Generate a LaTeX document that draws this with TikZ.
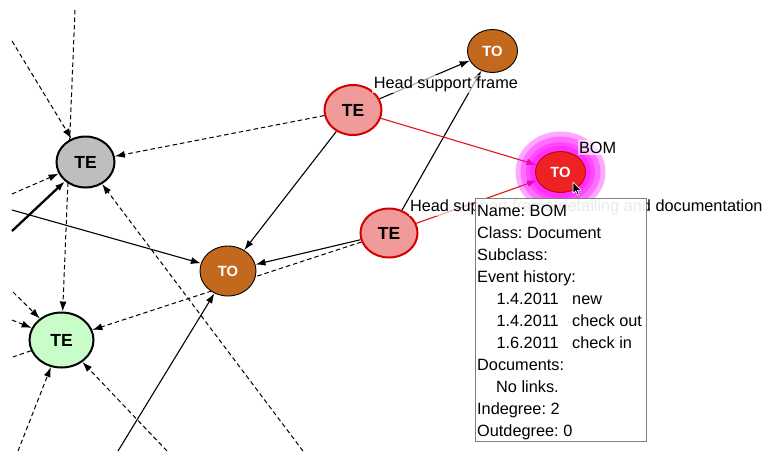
\documentclass[tikz,border=0pt]{standalone}
\usepackage{fontspec}
\setmainfont{Liberation Sans}
\usetikzlibrary{shapes.geometric,arrows.meta}
\frenchspacing

\definecolor{tegray}{HTML}{BEBEBE}
\definecolor{tegreen}{HTML}{C8FCC8}
\definecolor{tobrown}{HTML}{C2691E}
\definecolor{tepink}{HTML}{F09A9A}
\definecolor{tered}{HTML}{D40000}
\definecolor{bomred}{HTML}{EE2222}
\definecolor{bomedge}{HTML}{C00000}
\definecolor{hotred}{HTML}{DD1515}
\definecolor{glowpink}{HTML}{FF00FF}
\definecolor{popupedge}{HTML}{808080}

\pgfdeclarelayer{edges}
\pgfdeclarelayer{glow}
\pgfdeclarelayer{labels}
\pgfdeclarelayer{popup}
\pgfsetlayers{edges,glow,main,labels,popup}

\begin{document}
\begin{tikzpicture}[x=1pt,y=-1pt,
  lbl/.style={font=\fontsize{16.3}{19}\selectfont, inner sep=0pt, anchor=base west},
  edgelbl/.style={lbl, fill=white, fill opacity=0.65, text opacity=1, inner sep=1.5pt},
  te/.style={ellipse, inner sep=0pt, line width=2pt, font=\fontsize{17.5}{20}\selectfont\bfseries},
  to/.style={ellipse, inner sep=0pt, line width=0.9pt, text=white, font=\fontsize{14.8}{17}\selectfont\bfseries},
  link/.style={line width=1.1pt, -{Latex[length=10pt,width=7pt]}},
  dlink/.style={link, line width=1pt, dash pattern=on 4.5pt off 3pt},
  hot/.style={link, draw=hotred, line width=1.1pt},
  ring/.style={ellipse, fill=glowpink, fill opacity=0.34, inner sep=0pt},
]
\useasboundingbox (0,0) rectangle (769,451);

% entity nodes
\node[te, fill=tegray, draw=black, minimum width=58pt, minimum height=51pt] (g) at (85.5,162) {TE};
\node[te, fill=tegreen, draw=black, minimum width=64pt, minimum height=55pt] (l) at (61.5,340) {TE};
\node[to, fill=tobrown, draw=black, minimum width=56pt, minimum height=50pt] (m) at (228,271) {TO};
\node[te, fill=tepink, draw=tered, minimum width=57pt, minimum height=50pt] (p1) at (353,110) {TE};
\node[to, fill=tobrown, draw=black, minimum width=50pt, minimum height=43pt] (t) at (492.5,51) {TO};
\node[te, fill=tepink, draw=tered, minimum width=57pt, minimum height=49pt] (p2) at (389,233) {TE};
\node[to, fill=bomred, draw=bomedge, minimum width=50pt, minimum height=41pt] (b) at (560.5,172) {TO};

% loose ends of links that leave the view
\coordinate (c1) at (75,10);
\coordinate (c2) at (12,41);
\coordinate (c3) at (12,194);
\coordinate (c4) at (12,231);
\coordinate (c5) at (303,451);
\coordinate (c6) at (12,210);
\coordinate (c7) at (118,451);
\coordinate (c8) at (13,292);
\coordinate (c9) at (12,320);
\coordinate (c10) at (13,357);
\coordinate (c11) at (18,451);
\coordinate (c12) at (167,451);

\begin{pgfonlayer}{edges}
  \draw[dlink] (c1) -- (l);
  \draw[dlink] (c2) -- (g);
  \draw[dlink] (c3) -- (g);
  \draw[link, line width=2.3pt] (c4) -- (g);
  \draw[dlink] (c5) -- (g);
  \draw[dlink] (p1) -- (g);
  \draw[link] (c6) -- (m);
  \draw[link] (c7) -- (m);
  \draw[dlink] (p2) -- (l);
  \draw[link] (p2) -- (m);
  \draw[link] (p1) -- (m);
  \draw[link] (p2) -- (t);
  \draw[link] (p1) -- (t);
  \draw[dlink] (c8) -- (l);
  \draw[dlink] (c9) -- (l);
  \draw[dlink, -] (l) -- (c10);
  \draw[dlink] (c11) -- (l);
  \draw[dlink] (c12) -- (l);
  \draw[hot] (p1) -- (b);
  \draw[hot] (p2) -- (b);
\end{pgfonlayer}

% highlight rings round the selected node
\begin{pgfonlayer}{glow}
  \node[ring, minimum width=90pt, minimum height=81pt] (r1) at (b) {};
  \node[ring, minimum width=80pt, minimum height=71pt] (r2) at (b) {};
  \node[ring, minimum width=69pt, minimum height=60pt] (r3) at (b) {};
  \node[ring, minimum width=61pt, minimum height=52pt] (r4) at (b) {};
\end{pgfonlayer}

\begin{pgfonlayer}{labels}
  \node[edgelbl] (lab1) at (372.2,88.3) {Head support frame};
  \node[edgelbl] (lab2) at (408.3,211) {Head support frame detailing and documentation};
  \node[edgelbl] (lab3) at (577.3,153.3) {BOM};
\end{pgfonlayer}

\begin{pgfonlayer}{popup}
  \node[draw=popupedge, line width=0.8pt, fill=white, fill opacity=0.92,
        minimum width=171pt, minimum height=243pt, anchor=north west, inner sep=0pt]
        (info) at (474.5,197.5) {};
  \node[lbl] (i1) at (477,216) {Name: BOM};
  \node[lbl] (i2) at (477,238) {Class: Document};
  \node[lbl] (i3) at (477,260) {Subclass:};
  \node[lbl] (i4) at (477,282) {Event history:};
  \node[lbl] (i5a) at (496.3,304) {1.4.2011};
  \node[lbl] (i5b) at (572,304) {new};
  \node[lbl] (i6a) at (496.3,326) {1.4.2011};
  \node[lbl] (i6b) at (572,326) {check out};
  \node[lbl] (i7a) at (496.3,348) {1.6.2011};
  \node[lbl] (i7b) at (572,348) {check in};
  \node[lbl] (i8) at (477,370) {Documents:};
  \node[lbl] (i9) at (496,392) {No links.};
  \node[lbl] (i10) at (477,414) {Indegree: 2};
  \node[lbl] (i11) at (477,436) {Outdegree: 0};
  % mouse pointer
  \draw[fill=black, draw=white, line width=0.6pt, line join=round]
    (573,182) -- ++(0,11.5) -- ++(2.7,-2.5) -- ++(1.9,4.2) -- ++(1.7,-0.8)
    -- ++(-1.9,-4.1) -- ++(3.7,0) -- cycle;
\end{pgfonlayer}
\end{tikzpicture}
\end{document}
